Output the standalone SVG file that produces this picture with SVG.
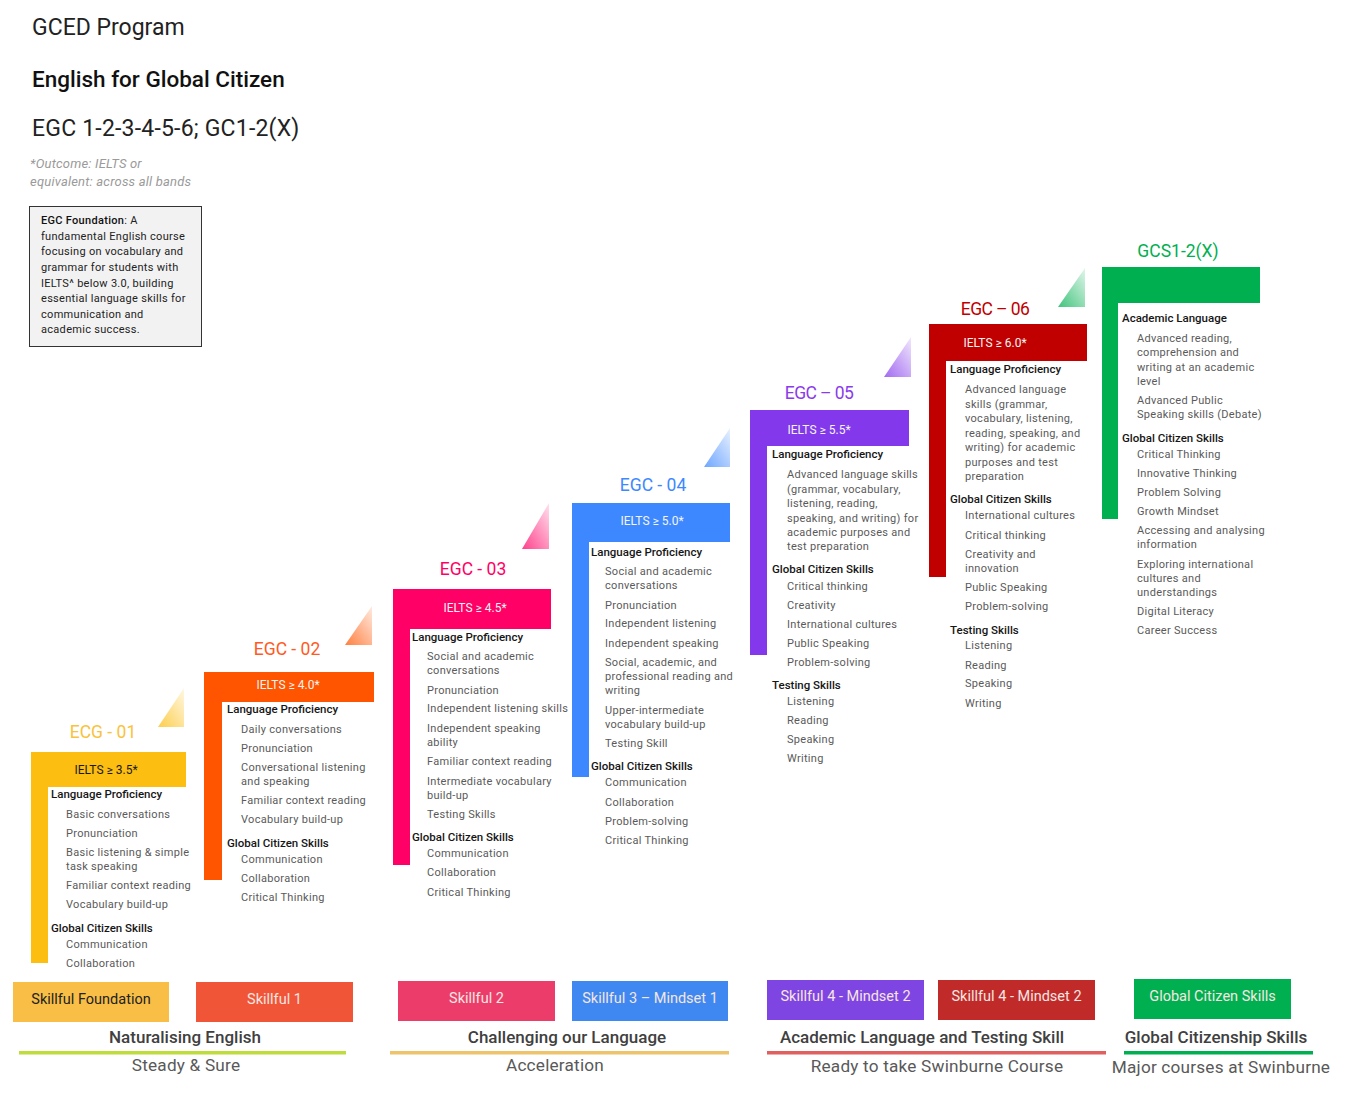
<svg xmlns="http://www.w3.org/2000/svg" width="1360" height="1101" viewBox="0 0 1360 1101">
<defs>
<style>
text{font-family:Roboto,"Liberation Sans",Arial,sans-serif}
.t1{font-size:23px;fill:#222}
.t2{font-size:22.5px;fill:#111;font-weight:500}
.note{font-size:13px;fill:#9a9a9a;font-style:italic;letter-spacing:0.2px}
.fb{font-size:11px;fill:#222;letter-spacing:0.3px}
.lbl{font-size:17.5px;text-anchor:middle}
.nd{letter-spacing:-0.6px}
.ielts{font-size:12px;text-anchor:middle;fill:#f4f4f4}
.h{font-size:11.5px;fill:#161616;font-weight:500}
.i{font-size:11px;fill:#5a5a5a;letter-spacing:0.3px}
.bx{font-size:14.5px;text-anchor:middle;fill:#f6e6e2}
.phase{font-size:17px;text-anchor:middle;fill:#404040;font-weight:500}
.sub{font-size:17.2px;text-anchor:middle;fill:#595959;letter-spacing:0.2px}
</style>
<linearGradient id="gY" x1="0" y1="1" x2="1" y2="0"><stop offset="0" stop-color="#FCBE11" stop-opacity="0.75"/><stop offset="1" stop-color="#FCBE11" stop-opacity="0.12"/></linearGradient>
<linearGradient id="gO" x1="0" y1="1" x2="1" y2="0"><stop offset="0" stop-color="#FF5500" stop-opacity="0.75"/><stop offset="1" stop-color="#FF5500" stop-opacity="0.12"/></linearGradient>
<linearGradient id="gP" x1="0" y1="1" x2="1" y2="0"><stop offset="0" stop-color="#FF0066" stop-opacity="0.75"/><stop offset="1" stop-color="#FF0066" stop-opacity="0.12"/></linearGradient>
<linearGradient id="gB" x1="0" y1="1" x2="1" y2="0"><stop offset="0" stop-color="#3D88FF" stop-opacity="0.75"/><stop offset="1" stop-color="#3D88FF" stop-opacity="0.12"/></linearGradient>
<linearGradient id="gV" x1="0" y1="1" x2="1" y2="0"><stop offset="0" stop-color="#8338EC" stop-opacity="0.75"/><stop offset="1" stop-color="#8338EC" stop-opacity="0.12"/></linearGradient>
<linearGradient id="gG" x1="0" y1="1" x2="1" y2="0"><stop offset="0" stop-color="#00B050" stop-opacity="0.75"/><stop offset="1" stop-color="#00B050" stop-opacity="0.12"/></linearGradient>
</defs>
<rect width="1360" height="1101" fill="#fff"/>

<g id="titles">
<text class="t1" x="32" y="35">GCED Program</text>
<text class="t2" x="32" y="87">English for Global Citizen</text>
<text class="t1" x="32" y="136" style="letter-spacing:0.2px">EGC 1-2-3-4-5-6; GC1-2(X)</text>
<text class="note" x="30" y="168">*Outcome: IELTS or</text>
<text class="note" x="30" y="186">equivalent: across all bands</text>
</g>

<g id="foundation">
<rect x="29.5" y="206.5" width="172" height="140" fill="#F2F2F2" stroke="#333" stroke-width="1"/>
<text class="fb" x="41" y="224"><tspan font-weight="500" fill="#111">EGC Foundation</tspan>: A</text>
<text class="fb" x="41" y="240">fundamental English course</text>
<text class="fb" x="41" y="255">focusing on vocabulary and</text>
<text class="fb" x="41" y="271">grammar for students with</text>
<text class="fb" x="41" y="287">IELTS^ below 3.0, building</text>
<text class="fb" x="41" y="302">essential language skills for</text>
<text class="fb" x="41" y="318">communication and</text>
<text class="fb" x="41" y="333">academic success.</text>
</g>

<g id="connectors">
<path d="M158,727 L184,688 L184,727 Z" fill="url(#gY)"/>
<path d="M345,645 L372,606 L372,645 Z" fill="url(#gO)"/>
<path d="M522,549 L549,503 L549,549 Z" fill="url(#gP)"/>
<path d="M704,467 L730,428 L730,467 Z" fill="url(#gB)"/>
<path d="M884,377 L911,337 L911,377 Z" fill="url(#gV)"/>
<path d="M1058,307 L1085,268 L1085,307 Z" fill="url(#gG)"/>
</g>

<g id="step1">
<path d="M31,752 H186 V787 H48 V963 H31 Z" fill="#FCBE11"/>
<text class="lbl" x="103" y="738" fill="#F9C23C">ECG - 01</text>
<text class="ielts" x="106" y="774" style="fill:#1a1a1a">IELTS ≥ 3.5*</text>
<text class="h" x="51" y="798">Language Proficiency</text>
<text class="i" x="66" y="818">Basic conversations</text>
<text class="i" x="66" y="837">Pronunciation</text>
<text class="i" x="66" y="856">Basic listening &amp; simple</text>
<text class="i" x="66" y="870">task speaking</text>
<text class="i" x="66" y="889">Familiar context reading</text>
<text class="i" x="66" y="908">Vocabulary build-up</text>
<text class="h" x="51" y="932">Global Citizen Skills</text>
<text class="i" x="66" y="948">Communication</text>
<text class="i" x="66" y="967">Collaboration</text>
</g>

<g id="step2">
<path d="M204,672 H374 V702 H222 V880 H204 Z" fill="#FF5500"/>
<text class="lbl" x="287" y="655" fill="#FF5A1F">EGC - 02</text>
<text class="ielts" x="288" y="689">IELTS ≥ 4.0*</text>
<text class="h" x="227" y="713">Language Proficiency</text>
<text class="i" x="241" y="733">Daily conversations</text>
<text class="i" x="241" y="752">Pronunciation</text>
<text class="i" x="241" y="771">Conversational listening</text>
<text class="i" x="241" y="785">and speaking</text>
<text class="i" x="241" y="804">Familiar context reading</text>
<text class="i" x="241" y="823">Vocabulary build-up</text>
<text class="h" x="227" y="847">Global Citizen Skills</text>
<text class="i" x="241" y="863">Communication</text>
<text class="i" x="241" y="882">Collaboration</text>
<text class="i" x="241" y="901">Critical Thinking</text>
</g>

<g id="step3">
<path d="M393,589 H551 V629 H410 V865 H393 Z" fill="#FF0066"/>
<text class="lbl" x="473" y="575" fill="#FF0066">EGC - 03</text>
<text class="ielts" x="475" y="612">IELTS ≥ 4.5*</text>
<text class="h" x="412" y="641">Language Proficiency</text>
<text class="i" x="427" y="660">Social and academic</text>
<text class="i" x="427" y="674">conversations</text>
<text class="i" x="427" y="694">Pronunciation</text>
<text class="i" x="427" y="712">Independent listening skills</text>
<text class="i" x="427" y="732">Independent speaking</text>
<text class="i" x="427" y="746">ability</text>
<text class="i" x="427" y="765">Familiar context reading</text>
<text class="i" x="427" y="785">Intermediate vocabulary</text>
<text class="i" x="427" y="799">build-up</text>
<text class="i" x="427" y="818">Testing Skills</text>
<text class="h" x="412" y="841">Global Citizen Skills</text>
<text class="i" x="427" y="857">Communication</text>
<text class="i" x="427" y="876">Collaboration</text>
<text class="i" x="427" y="896">Critical Thinking</text>
</g>

<g id="step4">
<path d="M572,503 H730 V542 H589 V777 H572 Z" fill="#3D88FF"/>
<text class="lbl" x="653" y="491" fill="#3D88FF">EGC - 04</text>
<text class="ielts" x="652" y="525">IELTS ≥ 5.0*</text>
<text class="h" x="591" y="556">Language Proficiency</text>
<text class="i" x="605" y="575">Social and academic</text>
<text class="i" x="605" y="589">conversations</text>
<text class="i" x="605" y="609">Pronunciation</text>
<text class="i" x="605" y="627">Independent listening</text>
<text class="i" x="605" y="647">Independent speaking</text>
<text class="i" x="605" y="666">Social, academic, and</text>
<text class="i" x="605" y="680">professional reading and</text>
<text class="i" x="605" y="694">writing</text>
<text class="i" x="605" y="714">Upper-intermediate</text>
<text class="i" x="605" y="728">vocabulary build-up</text>
<text class="i" x="605" y="747">Testing Skill</text>
<text class="h" x="591" y="770">Global Citizen Skills</text>
<text class="i" x="605" y="786">Communication</text>
<text class="i" x="605" y="806">Collaboration</text>
<text class="i" x="605" y="825">Problem-solving</text>
<text class="i" x="605" y="844">Critical Thinking</text>
</g>

<g id="step5">
<path d="M750,410 H909 V446 H767 V655 H750 Z" fill="#8338EC"/>
<text class="lbl nd" x="819" y="399" fill="#8A3BEB">EGC – 05</text>
<text class="ielts" x="819" y="434">IELTS ≥ 5.5*</text>
<text class="h" x="772" y="458">Language Proficiency</text>
<text class="i" x="787" y="478">Advanced language skills</text>
<text class="i" x="787" y="493">(grammar, vocabulary,</text>
<text class="i" x="787" y="507">listening, reading,</text>
<text class="i" x="787" y="522">speaking, and writing) for</text>
<text class="i" x="787" y="536">academic purposes and</text>
<text class="i" x="787" y="550">test preparation</text>
<text class="h" x="772" y="573">Global Citizen Skills</text>
<text class="i" x="787" y="590">Critical thinking</text>
<text class="i" x="787" y="609">Creativity</text>
<text class="i" x="787" y="628">International cultures</text>
<text class="i" x="787" y="647">Public Speaking</text>
<text class="i" x="787" y="666">Problem-solving</text>
<text class="h" x="772" y="689">Testing Skills</text>
<text class="i" x="787" y="705">Listening</text>
<text class="i" x="787" y="724">Reading</text>
<text class="i" x="787" y="743">Speaking</text>
<text class="i" x="787" y="762">Writing</text>
</g>

<g id="step6">
<path d="M929,324 H1087 V361 H946 V577 H929 Z" fill="#C00000"/>
<text class="lbl nd" x="995" y="315" fill="#C00000">EGC – 06</text>
<text class="ielts" x="995" y="347">IELTS ≥ 6.0*</text>
<text class="h" x="950" y="373">Language Proficiency</text>
<text class="i" x="965" y="393">Advanced language</text>
<text class="i" x="965" y="408">skills (grammar,</text>
<text class="i" x="965" y="422">vocabulary, listening,</text>
<text class="i" x="965" y="437">reading, speaking, and</text>
<text class="i" x="965" y="451">writing) for academic</text>
<text class="i" x="965" y="466">purposes and test</text>
<text class="i" x="965" y="480">preparation</text>
<text class="h" x="950" y="503">Global Citizen Skills</text>
<text class="i" x="965" y="519">International cultures</text>
<text class="i" x="965" y="539">Critical thinking</text>
<text class="i" x="965" y="558">Creativity and</text>
<text class="i" x="965" y="572">innovation</text>
<text class="i" x="965" y="591">Public Speaking</text>
<text class="i" x="965" y="610">Problem-solving</text>
<text class="h" x="950" y="634">Testing Skills</text>
<text class="i" x="965" y="649">Listening</text>
<text class="i" x="965" y="669">Reading</text>
<text class="i" x="965" y="687">Speaking</text>
<text class="i" x="965" y="707">Writing</text>
</g>

<g id="step7">
<path d="M1102,267 H1260 V303 H1118 V519 H1102 Z" fill="#00B050"/>
<text class="lbl" x="1178" y="257" fill="#00B050">GCS1-2(X)</text>
<text class="h" x="1122" y="322">Academic Language</text>
<text class="i" x="1137" y="342">Advanced reading,</text>
<text class="i" x="1137" y="356">comprehension and</text>
<text class="i" x="1137" y="371">writing at an academic</text>
<text class="i" x="1137" y="385">level</text>
<text class="i" x="1137" y="404">Advanced Public</text>
<text class="i" x="1137" y="418">Speaking skills (Debate)</text>
<text class="h" x="1122" y="442">Global Citizen Skills</text>
<text class="i" x="1137" y="458">Critical Thinking</text>
<text class="i" x="1137" y="477">Innovative Thinking</text>
<text class="i" x="1137" y="496">Problem Solving</text>
<text class="i" x="1137" y="515">Growth Mindset</text>
<text class="i" x="1137" y="534">Accessing and analysing</text>
<text class="i" x="1137" y="548">information</text>
<text class="i" x="1137" y="568">Exploring international</text>
<text class="i" x="1137" y="582">cultures and</text>
<text class="i" x="1137" y="596">understandings</text>
<text class="i" x="1137" y="615">Digital Literacy</text>
<text class="i" x="1137" y="634">Career Success</text>
</g>

<g id="box-foundation">
<rect x="13" y="982" width="156" height="40" fill="#F8BE45"/>
<text class="bx" x="91" y="1004" style="fill:#222">Skillful Foundation</text>
</g>
<g id="box-skillful1">
<rect x="196" y="982" width="157" height="40" fill="#F05537"/>
<text class="bx" x="274.5" y="1004">Skillful 1</text>
</g>
<g id="box-skillful2">
<rect x="398" y="981" width="157" height="40" fill="#EC3D6A"/>
<text class="bx" x="476.5" y="1003">Skillful 2</text>
</g>
<g id="box-skillful3">
<rect x="572" y="981" width="156" height="40" fill="#3F88F2"/>
<text class="bx" x="650" y="1003">Skillful 3 – Mindset 1</text>
</g>
<g id="box-skillful4a">
<rect x="767" y="980" width="157" height="40" fill="#7F45E3"/>
<text class="bx" x="845.5" y="1001">Skillful 4 - Mindset 2</text>
</g>
<g id="box-skillful4b">
<rect x="938" y="980" width="157" height="40" fill="#C02B2A"/>
<text class="bx" x="1016.5" y="1001">Skillful 4 - Mindset 2</text>
</g>
<g id="box-gcs">
<rect x="1134" y="979" width="157" height="40" fill="#00B050"/>
<text class="bx" x="1212.5" y="1001">Global Citizen Skills</text>
</g>

<g id="phase1">
<text class="phase" x="185" y="1043">Naturalising English</text>
<rect x="19" y="1051" width="327" height="3.5" fill="#BEDC3C"/>
<text class="sub" x="186" y="1071">Steady &amp; Sure</text>
</g>
<g id="phase2">
<text class="phase" x="567" y="1043">Challenging our Language</text>
<rect x="390" y="1051" width="339" height="3.5" fill="#EDC46B"/>
<text class="sub" x="555" y="1071">Acceleration</text>
</g>
<g id="phase3">
<text class="phase" x="922" y="1043">Academic Language and Testing Skill</text>
<rect x="767" y="1051" width="339" height="3.5" fill="#E06060"/>
<text class="sub" x="937" y="1072">Ready to take Swinburne Course</text>
</g>
<g id="phase4">
<text class="phase" x="1216" y="1043">Global Citizenship Skills</text>
<rect x="1124" y="1051" width="189" height="3.5" fill="#00B050"/>
<text class="sub" x="1221" y="1073">Major courses at Swinburne</text>
</g>
</svg>
